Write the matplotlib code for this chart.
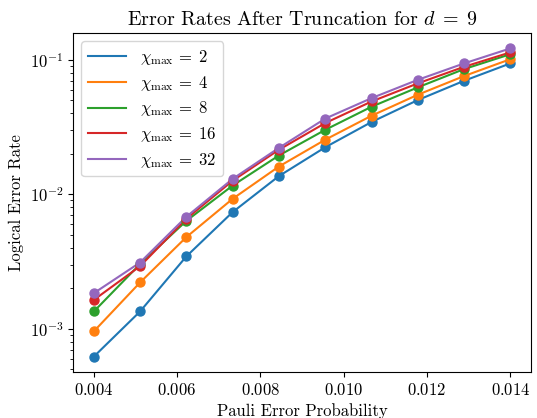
import matplotlib
matplotlib.use("Agg")
import matplotlib.pyplot as plt
import numpy as np

plt.rcParams['font.family'] = 'serif'
plt.rcParams['font.serif'] = ['cmr10']
plt.rcParams['mathtext.fontset'] = 'cm'
plt.rcParams['axes.formatter.use_mathtext'] = True
plt.rcParams['axes.unicode_minus'] = False
plt.rcParams['font.size'] = 12

# pauli error probabilities
p = [0.004, 0.00511, 0.00622, 0.00733, 0.00844, 0.00956, 0.01067, 0.01178, 0.01289, 0.014]

chi_max = [2, 4, 8, 16, 32]

err_2 = [6.21e-4, 1.345e-3, 3.45e-3, 7.36e-3, 1.363e-2, 2.24e-2, 3.45e-2, 5.02e-2, 6.98e-2, 9.40e-2]
err_4 = [9.57e-4, 2.21e-3, 4.80e-3, 9.24e-3, 1.606e-2, 2.55e-2, 3.84e-2, 5.50e-2, 7.57e-2, 1.01e-1]
err_8 = [1.345e-3, 3.03e-3, 6.34e-3, 1.16e-2, 1.94e-2, 3.02e-2, 4.48e-2, 6.24e-2, 8.53e-2, 1.10e-1]
err_16 = [1.64e-3, 2.92e-3, 6.57e-3, 1.26e-2, 2.14e-2, 3.39e-2, 4.90e-2, 6.68e-2, 8.87e-2, 1.135e-1]
err_32 = [1.84e-3, 3.11e-3, 6.80e-3, 1.30e-2, 2.21e-2, 3.66e-2, 5.19e-2, 7.10e-2, 9.40e-2, 1.215e-1]

errors = [err_2, err_4, err_8, err_16, err_32]

fig, ax = plt.subplots(figsize=(5.37, 4.18), dpi=100)
fig.subplots_adjust(left=0.136, right=0.989, top=0.921, bottom=0.110)

for i, (c, e) in enumerate(zip(chi_max, errors)):
    col = 'C%d' % i
    ax.plot(p, e, color=col, label=r'$\chi_{\max}\,=\;%d$' % c)
    ax.scatter(p, e, color=col, s=42, zorder=3)

ax.set_yscale('log')
ax.set_xlabel('Pauli Error Probability')
ax.set_ylabel('Logical Error Rate')
ax.set_title(r'Error Rates After Truncation for $d\;=\;9$')
ax.legend(loc='upper left', handlelength=2.3, labelspacing=0.4)

fig.savefig('out.png', dpi=100)
